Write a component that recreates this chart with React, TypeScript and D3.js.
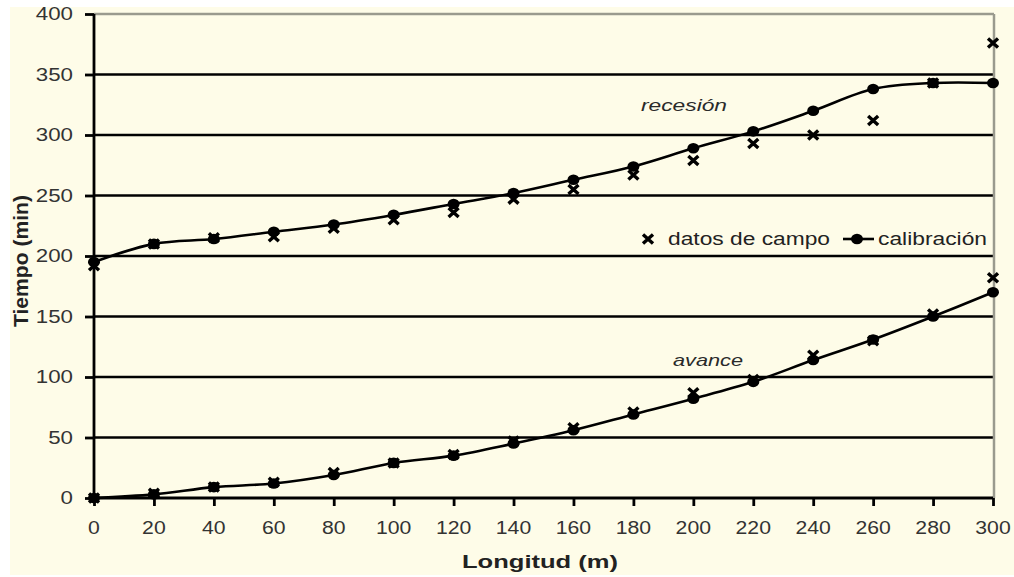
import React, { useEffect, useRef } from "react";
import * as d3 from "d3";

const longitudes = [0, 20, 40, 60, 80, 100, 120, 140, 160, 180, 200, 220, 240, 260, 280, 300];
const recesionCalib = [195, 210, 214, 220, 226, 234, 243, 252, 263, 274, 289, 303, 320, 338, 343, 343];
const recesionCampo = [192, 210, 215, 216, 223, 230, 236, 247, 255, 267, 279, 293, 300, 312, 343, 376];
const avanceCalib = [0, 3, 9, 12, 19, 29, 35, 45, 56, 69, 82, 96, 114, 131, 150, 170];
const avanceCampo = [0, 4, 9, 13, 21, 29, 36, 47, 58, 71, 87, 98, 118, 130, 152, 182];
const xTicks = [0, 20, 40, 60, 80, 100, 120, 140, 160, 180, 200, 220, 240, 260, 280, 300];
const yTicks = [0, 50, 100, 150, 200, 250, 300, 350, 400];

export default function App() {
  const ref = useRef<SVGSVGElement>(null);
  useEffect(() => {
    const svg = d3.select(ref.current);
    svg.selectAll("*").remove();
    const W = 1014, H = 577;
    const x = d3.scaleLinear().domain([0, 300]).range([94, 993]);
    const y = d3.scaleLinear().domain([0, 400]).range([498, 14]);
    const font = "'Liberation Sans', Arial, sans-serif";

    const txt = (g: any, tx: number, ty: number, s: string, opts: any = {}) => {
      const t = g.append("text").attr("x", tx).attr("y", ty).text(s)
        .attr("font-family", font).attr("font-size", opts.size || 17)
        .attr("fill", opts.fill || "#333")
        .attr("text-anchor", opts.anchor || "start");
      if (opts.weight) t.attr("font-weight", opts.weight);
      if (opts.style) t.attr("font-style", opts.style);
      if (opts.len) t.attr("textLength", opts.len).attr("lengthAdjust", "spacingAndGlyphs");
      return t;
    };

    svg.append("rect").attr("x", 0).attr("y", 0).attr("width", W).attr("height", H).attr("fill", "#ffffff");
    svg.append("rect").attr("x", 10).attr("y", 7).attr("width", W - 10).attr("height", 568).attr("fill", "#fefce8");

    // gridlines
    svg.append("g").selectAll("line").data(yTicks.filter(t => t > 0 && t < 400)).join("line")
      .attr("x1", x(0)).attr("x2", x(300)).attr("y1", d => y(d)).attr("y2", d => y(d))
      .attr("stroke", "#000").attr("stroke-width", 2.5);
    // plot border top/right
    svg.append("line").attr("x1", x(0)).attr("x2", x(300) + 1).attr("y1", y(400)).attr("y2", y(400))
      .attr("stroke", "#9a9a8e").attr("stroke-width", 2.5);
    svg.append("line").attr("x1", x(300) + 1).attr("x2", x(300) + 1).attr("y1", y(400)).attr("y2", y(0))
      .attr("stroke", "#9a9a8e").attr("stroke-width", 2.5);

    // axes (lines and ticks), labels drawn separately
    const yAxis = d3.axisLeft(y).tickValues(yTicks).tickSize(9).tickFormat(() => "");
    const gy = svg.append("g").attr("transform", `translate(${x(0)},0)`).call(yAxis);
    const xAxis = d3.axisBottom(x).tickValues(xTicks).tickSize(8).tickFormat(() => "");
    const gx = svg.append("g").attr("transform", `translate(0,${y(0)})`).call(xAxis);
    [gx, gy].forEach(g => {
      g.select(".domain").attr("stroke", "#000").attr("stroke-width", 2.8);
      g.selectAll(".tick line").attr("stroke", "#000").attr("stroke-width", 2.8);
    });
    gy.select(".domain").attr("d", `M0,${y(0) + 1}V${y(400)}`);
    gx.select(".domain").attr("d", `M${x(0)},0H${x(300)}`);

    const lbl = svg.append("g");
    yTicks.forEach(t => txt(lbl, 73, y(t) + 6, String(t), { anchor: "end", size: 18, len: String(t).length * 12.4 }));
    xTicks.forEach(t => txt(lbl, x(t), 534, String(t), { anchor: "middle", size: 18, len: String(t).length * 11.8 }));

    const line = d3.line<number>().x((_, i) => x(longitudes[i])).y(d => y(d)).curve(d3.curveCatmullRom.alpha(0.5));
    [recesionCalib, avanceCalib].forEach(series => {
      svg.append("path").attr("d", line(series)).attr("fill", "none").attr("stroke", "#000").attr("stroke-width", 2.6);
    });

    const xMark = (g: any, cx: number, cy: number) => {
      const sx = 5, sy = 4.5;
      g.append("path").attr("d", `M${cx - sx},${cy - sy}L${cx + sx},${cy + sy}M${cx - sx},${cy + sy}L${cx + sx},${cy - sy}`)
        .attr("stroke", "#000").attr("stroke-width", 3.4).attr("fill", "none");
    };
    const marks = svg.append("g");
    [recesionCampo, avanceCampo].forEach(series => {
      series.forEach((v, i) => xMark(marks, x(longitudes[i]), y(v)));
    });
    [recesionCalib, avanceCalib].forEach(series => {
      marks.selectAll(null).data(series).join("ellipse")
        .attr("cx", (_, i) => x(longitudes[i])).attr("cy", d => y(d)).attr("rx", 6).attr("ry", 5.3).attr("fill", "#000");
    });

    // series labels
    txt(svg, 641, 111, "recesión", { style: "italic", size: 17, len: 86, fill: "#2a2a2a" });
    txt(svg, 673, 366, "avance", { style: "italic", size: 17, len: 70, fill: "#2a2a2a" });

    // legend
    const lg = svg.append("g");
    xMark(lg, 648, 239);
    txt(lg, 668, 245, "datos de campo", { size: 17.5, len: 162, fill: "#222" });
    lg.append("line").attr("x1", 843).attr("x2", 874).attr("y1", 239).attr("y2", 239).attr("stroke", "#000").attr("stroke-width", 2.6);
    lg.append("ellipse").attr("cx", 857).attr("cy", 239).attr("rx", 6).attr("ry", 5.3).attr("fill", "#000");
    txt(lg, 878, 245, "calibración", { size: 17.5, len: 109, fill: "#222" });

    // axis titles
    txt(svg, 462, 568, "Longitud (m)", { weight: "bold", size: 19, len: 156, fill: "#222" });
    svg.append("text").attr("transform", `translate(28,261) rotate(-90)`).attr("text-anchor", "middle")
      .attr("font-weight", "bold").attr("font-family", font).attr("font-size", 20).attr("fill", "#222")
      .attr("textLength", 132).attr("lengthAdjust", "spacingAndGlyphs").text("Tiempo (min)");
  }, []);
  return (
    <svg ref={ref} width={1014} height={577} style={{ position: "absolute", left: 0, top: 0, display: "block" }} />
  );
}
